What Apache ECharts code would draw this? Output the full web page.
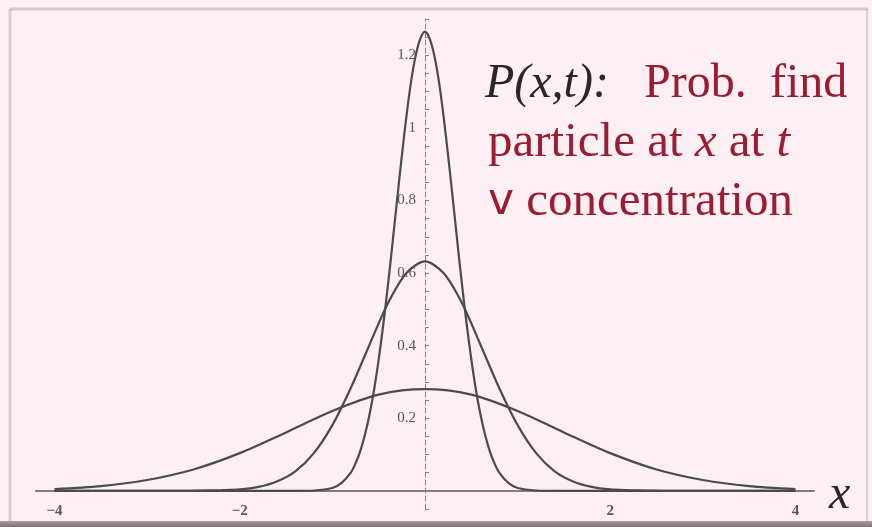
<!DOCTYPE html>
<html>
<head>
<meta charset="utf-8">
<style>
  html, body { margin: 0; padding: 0; background: #fcf0f4; }
  #chart { width: 872px; height: 527px; }
</style>
<script src="https://cdn.jsdelivr.net/npm/echarts@6/dist/echarts.min.js"></script>
</head>
<body>
<div id="chart"></div>
<script>
// Probability density P(x,t) at three successive times (spreading with time)
const xNarrow = [-4, -1.4, -1.2, -1.0, -0.9, -0.8, -0.75, -0.7, -0.65, -0.6, -0.55, -0.5, -0.45, -0.4, -0.35, -0.3, -0.25, -0.2, -0.15, -0.1, -0.05, 0,
                 0.05, 0.1, 0.15, 0.2, 0.25, 0.3, 0.35, 0.4, 0.45, 0.5, 0.55, 0.6, 0.65, 0.7, 0.75, 0.8, 0.9, 1.0, 1.2, 1.4, 4];
const yNarrow = [0, 0, 0.001, 0.008, 0.022, 0.051, 0.076, 0.109, 0.153, 0.209, 0.278, 0.362, 0.459, 0.567, 0.684, 0.805, 0.923, 1.033, 1.128, 1.2, 1.246, 1.265,
                 1.246, 1.2, 1.128, 1.033, 0.923, 0.805, 0.684, 0.567, 0.459, 0.362, 0.278, 0.209, 0.153, 0.109, 0.076, 0.051, 0.022, 0.008, 0.001, 0, 0];

const xMiddle = [-4, -2.6, -2.4, -2.2, -2.0, -1.8, -1.6, -1.4, -1.2, -1.0, -0.8, -0.6, -0.4, -0.2, 0,
                 0.2, 0.4, 0.6, 0.8, 1.0, 1.2, 1.4, 1.6, 1.8, 2.0, 2.2, 2.4, 2.6, 4];
const yMiddle = [0, 0, 0.001, 0.002, 0.004, 0.011, 0.026, 0.054, 0.104, 0.181, 0.284, 0.402, 0.517, 0.6, 0.632,
                 0.6, 0.517, 0.402, 0.284, 0.181, 0.104, 0.054, 0.026, 0.011, 0.004, 0.002, 0.001, 0, 0];

const xWide = [-4, -3.5, -3, -2.5, -2, -1.5, -1, -0.5, 0, 0.5, 1, 1.5, 2, 2.5, 3, 3.5, 4];
const yWide = [0.005, 0.013, 0.03, 0.059, 0.104, 0.161, 0.22, 0.265, 0.28, 0.265, 0.22, 0.161, 0.104, 0.059, 0.03, 0.013, 0.005];

const xTickLabels = [-4, -2, 2, 4];
const yTickLabels = [0.2, 0.4, 0.6, 0.8, 1, 1.2];

const pairs = (xs, ys) => xs.map((x, i) => [x, ys[i]]);

const serif = '"Liberation Serif", "DejaVu Serif", serif';
const red = '#9c1c32';
const curveStyle = { color: '#4b4b4b', width: 2.2 };

const X_MIN = -4.2, X_MAX = 4.2, Y_MIN = -0.05, Y_MAX = 1.3;
const GRID = { left: 36, right: 58, top: 19, bottom: 18 };
const plotW = 872 - GRID.left - GRID.right;
const plotH = 527 - GRID.top - GRID.bottom;

// both axes cross at the origin: shift them in from the grid edges
const yAxisShift = -plotW * (0 - X_MIN) / (X_MAX - X_MIN);
const xAxisShift = -plotH * (0 - Y_MIN) / (Y_MAX - Y_MIN);

const chart = echarts.init(document.getElementById('chart'));

const near = (v, list) => list.some(t => Math.abs(v - t) < 1e-6);

chart.setOption({
  backgroundColor: '#fcf0f4',
  animation: false,
  grid: Object.assign({ containLabel: false, outerBoundsMode: 'none' }, GRID),
  xAxis: {
    type: 'value', min: X_MIN, max: X_MAX, interval: 0.2,
    offset: xAxisShift,
    splitLine: { show: false },
    axisLine: { onZero: false, lineStyle: { color: '#847c80', width: 2 } },
    axisTick: { show: false },
    axisLabel: {
      interval: 0, margin: 13,
      color: '#5a5658', fontFamily: serif, fontSize: 15, fontWeight: 'bold',
      formatter: v => near(v, xTickLabels) ? String(Math.round(v)).replace('-', '\u2212') : ''
    }
  },
  yAxis: {
    type: 'value', min: Y_MIN, max: Y_MAX, interval: 0.05,
    offset: yAxisShift,
    splitLine: { show: false },
    axisLine: { onZero: false, lineStyle: { color: '#8a8286', width: 1, type: [5, 3] } },
    axisTick: { show: true, inside: true, length: 4, lineStyle: { color: '#8a8286' } },
    axisLabel: {
      interval: 0, margin: 9,
      color: '#5a5658', fontFamily: serif, fontSize: 15,
      formatter: v => near(v, yTickLabels) ? String(Math.round(v * 10) / 10) : ''
    }
  },
  series: [
    { type: 'line', data: pairs(xWide, yWide), smooth: 0.3, showSymbol: false, lineStyle: curveStyle, z: 3 },
    { type: 'line', data: pairs(xMiddle, yMiddle), smooth: 0.3, showSymbol: false, lineStyle: curveStyle, z: 3 },
    { type: 'line', data: pairs(xNarrow, yNarrow), smooth: 0.3, showSymbol: false, lineStyle: curveStyle, z: 3 }
  ],
  graphic: [
    // slide frame edges
    { type: 'line', shape: { x1: 10, y1: 9, x2: 868, y2: 9 }, style: { stroke: 'rgba(140,128,134,0.35)', lineWidth: 3 }, silent: true },
    { type: 'line', shape: { x1: 10, y1: 9, x2: 10, y2: 522 }, style: { stroke: 'rgba(140,128,134,0.3)', lineWidth: 3 }, silent: true },
    { type: 'line', shape: { x1: 867, y1: 9, x2: 867, y2: 522 }, style: { stroke: 'rgba(140,128,134,0.3)', lineWidth: 2 }, silent: true },
    { type: 'rect', shape: { x: 0, y: 521, width: 872, height: 6 },
      style: { fill: new echarts.graphic.LinearGradient(0, 0, 0, 1, [{ offset: 0, color: '#a89ea2' }, { offset: 1, color: '#7c7276' }]) }, silent: true },
    // axis name
    { type: 'text', x: 829, y: 471, style: { text: 'x', font: 'italic 48px ' + serif, fill: '#2a2628' }, silent: true },
    // annotation
    { type: 'text', x: 485, y: 60, style: { text: 'P(x,t):', font: 'italic 48px ' + serif, fill: '#2a2628' }, silent: true },
    { type: 'text', x: 644, y: 60, style: { text: 'Prob.', font: '48px ' + serif, fill: red }, silent: true },
    { type: 'text', x: 770, y: 60, style: { text: 'find', font: '48px ' + serif, fill: red }, silent: true },
    { type: 'text', x: 488, y: 119, style: {
        text: '{r|particle at }{i|x}{r| at }{i|t}',
        rich: {
          r: { font: '49px ' + serif, fill: red },
          i: { font: 'italic 49px ' + serif, fill: red }
        }
      }, silent: true },
    { type: 'text', x: 488, y: 178, style: {
        text: '{v|v}{r| concentration}',
        rich: {
          v: { font: '44px "DejaVu Sans", sans-serif', fill: red },
          r: { font: '49px ' + serif, fill: red }
        }
      }, silent: true }
  ]
});
</script>
</body>
</html>
